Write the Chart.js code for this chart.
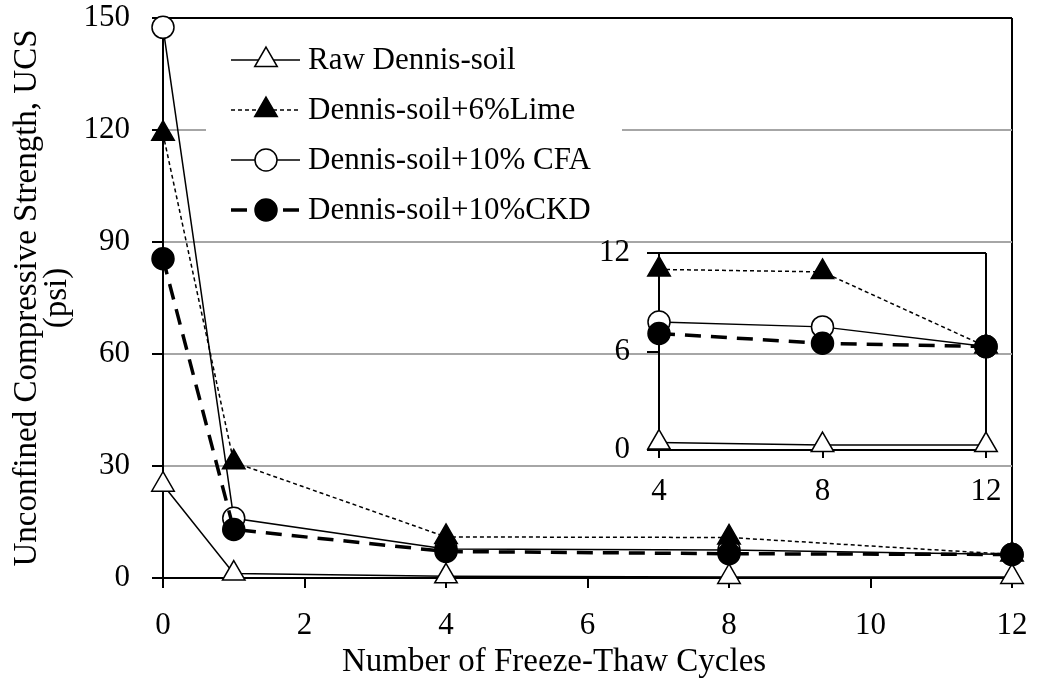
<!DOCTYPE html>
<html>
<head>
<meta charset="utf-8">
<title>UCS vs Freeze-Thaw Cycles</title>
<script src="https://cdn.jsdelivr.net/npm/chart.js@4.4.1/dist/chart.umd.min.js"></script>
<style>
  html, body { margin: 0; padding: 0; background: #fff; }
  #wrap { position: relative; width: 1039px; height: 687px; }
  #wrap canvas { position: absolute; left: 0; top: 0; }
</style>
</head>
<body>
<div id="wrap">
  <canvas id="mainChart" width="1039" height="687"></canvas>
  <canvas id="insetChart" width="1039" height="687"></canvas>
</div>
<script>
// freeze-thaw cycles and UCS (psi)
const cycles = [0, 1, 4, 8, 12];
const rawSoil = [25, 1.2, 0.45, 0.3, 0.3];
const lime6 = [119, 31, 11.0, 10.85, 6.3];
const cfa10 = [147.5, 16, 7.8, 7.5, 6.3];
const ckd10 = [85.5, 13, 7.1, 6.5, 6.3];

const seriesNames = ['Raw Dennis-soil', 'Dennis-soil+6%Lime', 'Dennis-soil+10% CFA', 'Dennis-soil+10%CKD'];
const seriesValues = [rawSoil, lime6, cfa10, ckd10];

const mainXTicks = [0, 2, 4, 6, 8, 10, 12];
const mainYTicks = [0, 30, 60, 90, 120, 150];
const insetXTicks = [4, 8, 12];
const insetYTicks = [0, 6, 12];

const xTitle = 'Number of Freeze-Thaw Cycles';
const yTitle = ['Unconfined Compressive Strength, UCS', '(psi)'];

const FONT = '"Liberation Serif", "Times New Roman", serif';

// line / marker look for each series
const styles = [
    { pointStyle: 'triangle', fill: '#ffffff', radius: 13, dash: [], width: 1.5, order: 3 },
    { pointStyle: 'triangle', fill: '#000000', radius: 13, dash: [4, 3], width: 1.5, order: 1 },
    { pointStyle: 'circle', fill: '#ffffff', radius: 11, dash: [], width: 1.5, order: 2 },
    { pointStyle: 'circle', fill: '#000000', radius: 11, dash: [16, 10], width: 3.5, order: 0 }
];

function makeDatasets(from) {
    return seriesValues.map((vals, i) => {
        const st = styles[i];
        return {
            label: seriesNames[i],
            data: cycles.slice(from).map((c, k) => ({ x: c, y: vals[from + k] })),
            borderColor: '#000',
            borderWidth: st.width,
            borderDash: st.dash,
            pointStyle: st.pointStyle,
            pointRadius: st.radius,
            pointHoverRadius: st.radius,
            pointBackgroundColor: st.fill,
            pointBorderColor: '#000',
            pointBorderWidth: 1.5,
            tension: 0,
            fill: false,
            clip: false,
            order: st.order
        };
    });
}

const tickList = arr => scale => { scale.ticks = arr.map(v => ({ value: v })); };

// fixed axis size, and no extra room for overhanging labels
const fixX = h => s => { s.height = h; s.paddingLeft = 0; s.paddingRight = 0; };
const fixY = w => s => { s.width = w; s.paddingTop = 0; s.paddingBottom = 0; };

// legend drawn inside the plot, with line sample + marker
const insideLegend = {
    id: 'insideLegend',
    afterDatasetsDraw(chart) {
        const ctx = chart.ctx;
        ctx.save();
        ctx.fillStyle = '#fff';
        ctx.fillRect(206, 36, 416, 198);
        chart.data.datasets.forEach((ds, i) => {
            const y = 60 + i * 50;
            ctx.strokeStyle = '#000';
            ctx.lineWidth = ds.borderWidth;
            ctx.setLineDash(ds.borderDash);
            ctx.beginPath();
            ctx.moveTo(231, y);
            ctx.lineTo(300, y);
            ctx.stroke();
            ctx.setLineDash([]);
            ctx.fillStyle = ds.pointBackgroundColor;
            ctx.strokeStyle = '#000';
            ctx.lineWidth = ds.pointBorderWidth;
            Chart.helpers.drawPoint(ctx, {
                pointStyle: ds.pointStyle, radius: ds.pointRadius, rotation: 0, borderWidth: ds.pointBorderWidth
            }, 266, y);
            ctx.fillStyle = '#000';
            ctx.font = '31px ' + FONT;
            ctx.textAlign = 'left';
            ctx.textBaseline = 'middle';
            ctx.fillText(ds.label, 308, y + 1);
        });
        ctx.restore();
    }
};

// x axis title sits a little left of centre in the original
const xAxisTitle = {
    id: 'xAxisTitle',
    afterDraw(chart) {
        const ctx = chart.ctx;
        ctx.save();
        ctx.font = '33px ' + FONT;
        ctx.fillStyle = '#000';
        ctx.textAlign = 'center';
        ctx.textBaseline = 'middle';
        ctx.fillText(xTitle, 554, 662);
        ctx.restore();
    }
};

Chart.defaults.font.family = FONT;
Chart.defaults.color = '#000';

// main chart
new Chart(document.getElementById('mainChart').getContext('2d'), {
    type: 'line',
    data: { datasets: makeDatasets(0) },
    options: {
        responsive: false,
        animation: false,
        devicePixelRatio: 1,
        layout: { padding: { left: 0, top: 18, right: 27, bottom: 0 } },
        plugins: { legend: { display: false }, tooltip: { enabled: false } },
        scales: {
            x: {
                type: 'linear', min: 0, max: 12,
                afterBuildTicks: tickList(mainXTicks),
                afterFit: fixX(109),
                grid: {
                    color: c => (c.tick && c.tick.value === 12) ? '#000' : 'rgba(0,0,0,0)',
                    lineWidth: 2, tickLength: 10, tickColor: '#000', tickWidth: 2
                },
                border: { color: '#000', width: 2 },
                ticks: { color: '#000', font: { size: 31 }, padding: 19, maxRotation: 0 }
            },
            y: {
                type: 'linear', min: 0, max: 150,
                afterBuildTicks: tickList(mainYTicks),
                afterFit: fixY(163),
                grid: {
                    color: c => {
                        if (!c.tick) return 'rgba(0,0,0,0)';
                        if (c.tick.value === 150) return '#000';
                        if (c.tick.value === 0) return 'rgba(0,0,0,0)';
                        return '#a6a6a6';
                    },
                    lineWidth: 2, tickLength: 11, tickColor: '#000', tickWidth: 2
                },
                border: { color: '#000', width: 2 },
                ticks: { color: '#000', font: { size: 31 }, padding: 22 },
                title: {
                    display: true, text: yTitle, color: '#000',
                    font: { size: 33, lineHeight: '30px' },
                    padding: { top: 12, bottom: 0 }
                }
            }
        }
    },
    plugins: [insideLegend, xAxisTitle]
});

// inset chart for cycles 4 to 12
new Chart(document.getElementById('insetChart').getContext('2d'), {
    type: 'line',
    data: { datasets: makeDatasets(2) },
    options: {
        responsive: false,
        animation: false,
        devicePixelRatio: 1,
        layout: { padding: { left: 0, top: 253, right: 53, bottom: 0 } },
        plugins: { legend: { display: false }, tooltip: { enabled: false } },
        scales: {
            x: {
                type: 'linear', min: 4, max: 12,
                afterBuildTicks: tickList(insetXTicks),
                afterFit: fixX(237),
                grid: {
                    color: c => (c.tick && c.tick.value === 12) ? '#000' : 'rgba(0,0,0,0)',
                    lineWidth: 2, tickLength: 8, tickColor: '#000', tickWidth: 2
                },
                border: { color: '#000', width: 2 },
                ticks: { color: '#000', font: { size: 31 }, padding: 15, maxRotation: 0 }
            },
            y: {
                type: 'linear', min: 0, max: 12,
                afterBuildTicks: tickList(insetYTicks),
                afterFit: fixY(659),
                grid: {
                    color: c => (c.tick && c.tick.value === 12) ? '#000' : 'rgba(0,0,0,0)',
                    lineWidth: 2, tickLength: 12, tickColor: '#000', tickWidth: 2
                },
                border: { color: '#000', width: 2 },
                ticks: { color: '#000', font: { size: 31 }, padding: 17 }
            }
        }
    }
});
</script>
</body>
</html>
